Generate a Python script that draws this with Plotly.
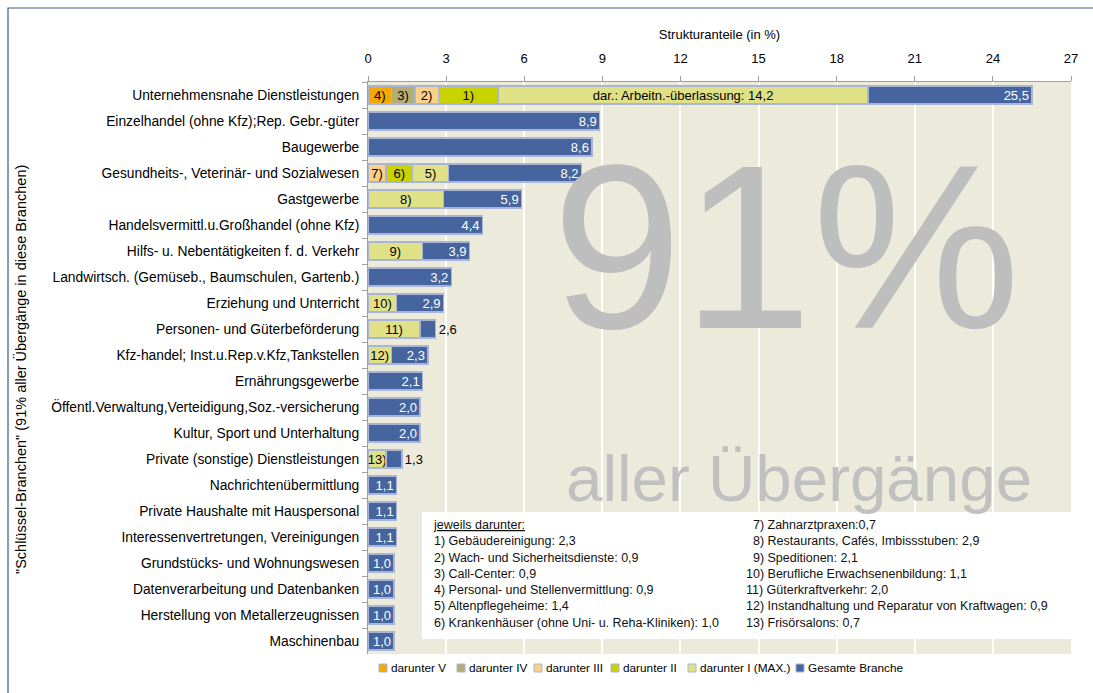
import plotly.graph_objects as go

categories = [
    "Unternehmensnahe Dienstleistungen",
    "Einzelhandel (ohne Kfz);Rep. Gebr.-güter",
    "Baugewerbe",
    "Gesundheits-, Veterinär- und Sozialwesen",
    "Gastgewerbe",
    "Handelsvermittl.u.Großhandel (ohne Kfz)",
    "Hilfs- u. Nebentätigkeiten f. d. Verkehr",
    "Landwirtsch. (Gemüseb., Baumschulen, Gartenb.)",
    "Erziehung und Unterricht",
    "Personen- und Güterbeförderung",
    "Kfz-handel; Inst.u.Rep.v.Kfz,Tankstellen",
    "Ernährungsgewerbe",
    "Öffentl.Verwaltung,Verteidigung,Soz.-versicherung",
    "Kultur, Sport und Unterhaltung",
    "Private (sonstige) Dienstleistungen",
    "Nachrichtenübermittlung",
    "Private Haushalte mit Hauspersonal",
    "Interessenvertretungen, Vereinigungen",
    "Grundstücks- und Wohnungswesen",
    "Datenverarbeitung und Datenbanken",
    "Herstellung von Metallerzeugnissen",
    "Maschinenbau",
]

total = [25.5, 8.9, 8.6, 8.2, 5.9, 4.4, 3.9, 3.2, 2.9, 2.6, 2.3,
         2.1, 2.0, 2.0, 1.3, 1.1, 1.1, 1.1, 1.0, 1.0, 1.0, 1.0]

N = len(categories)
def pad(d):
    return [d.get(i) for i in range(N)]

sub_V = pad({0: 0.9})
sub_V_lbl = pad({0: "4)"})
sub_IV = pad({0: 0.9})
sub_IV_lbl = pad({0: "3)"})
sub_III = pad({0: 0.9, 3: 0.7})
sub_III_lbl = pad({0: "2)", 3: "7)"})
sub_II = pad({0: 2.3, 3: 1.0})
sub_II_lbl = pad({0: "1)", 3: "6)"})
sub_I = pad({0: 14.2, 3: 1.4, 4: 2.9, 6: 2.1, 8: 1.1, 9: 2.0, 10: 0.9, 14: 0.7})
sub_I_lbl = pad({0: "dar.: Arbeitn.-überlassung: 14,2", 3: "5)", 4: "8)", 6: "9)",
                 8: "10)", 9: "11)", 10: "12)", 14: "13)"})
outside_label = [9, 14]

legend_names = ["darunter V", "darunter IV", "darunter III", "darunter II",
                "darunter I (MAX.)", "Gesamte Branche"]

footnote_left = [
    "1) Gebäudereinigung: 2,3",
    "2) Wach- und Sicherheitsdienste: 0,9",
    "3) Call-Center: 0,9",
    "4) Personal- und Stellenvermittlung: 0,9",
    "5) Altenpflegeheime: 1,4",
    "6) Krankenhäuser (ohne Uni- u. Reha-Kliniken): 1,0",
]
footnote_right = [
    "  7) Zahnarztpraxen:0,7",
    "  8) Restaurants, Cafés, Imbissstuben: 2,9",
    "  9) Speditionen: 2,1",
    "10) Berufliche Erwachsenenbildung: 1,1",
    "11) Güterkraftverkehr: 2,0",
    "12) Instandhaltung und Reparatur von Kraftwagen: 0,9",
    "13) Frisörsalons: 0,7",
]

FONT = "Liberation Sans, Arial, sans-serif"
EDGE = "#A9B5D6"
COLORS = ["#F5A800", "#B3AD74", "#FDD088", "#C9D300", "#E0E087", "#46649D"]

def fmt(v):
    return f"{v:.1f}".replace(".", ",")

remainder = []
for i in range(N):
    s = sum(v for v in (sub_V[i], sub_IV[i], sub_III[i], sub_II[i], sub_I[i]) if v)
    remainder.append(round(total[i] - s, 2))

fig = go.Figure()
series = [
    (sub_V, sub_V_lbl),
    (sub_IV, sub_IV_lbl),
    (sub_III, sub_III_lbl),
    (sub_II, sub_II_lbl),
    (sub_I, sub_I_lbl),
]
for k, (vals, lbls) in enumerate(series):
    fig.add_trace(go.Bar(
        y=categories, x=vals, name=legend_names[k], orientation="h",
        marker=dict(color=COLORS[k], line=dict(color=EDGE, width=1.5)),
        text=[l if l else "" for l in lbls], textposition="inside",
        insidetextanchor="middle", constraintext="none", textangle=0,
        textfont=dict(family=FONT, size=13, color="black"),
        hoverinfo="skip",
    ))

fig.add_trace(go.Bar(
    y=categories, x=remainder, name=legend_names[5], orientation="h",
    marker=dict(color=COLORS[5], line=dict(color=EDGE, width=1.5)),
    text=[fmt(t) for t in total],
    textposition=["outside" if i in outside_label else "inside" for i in range(N)],
    insidetextanchor="end", constraintext="none", textangle=0,
    insidetextfont=dict(family=FONT, size=13, color="white"),
    outsidetextfont=dict(family=FONT, size=13, color="black"),
    hoverinfo="skip",
))

L, R, T, B = 368, 22, 82, 39
W, H = 1093, 693
pw, ph = W - L - R, H - T - B
def px(x):
    return (x - L) / pw
def py(y):
    return (H - B - y) / ph

fig.update_layout(
    width=W, height=H,
    margin=dict(l=L, r=R, t=T, b=B),
    barmode="stack", bargap=0.3,
    plot_bgcolor="#ECEADB", paper_bgcolor="white",
    font=dict(family=FONT, size=13, color="black"),
    showlegend=False,
    xaxis=dict(side="top", range=[0, 27], tickmode="array",
               tickvals=list(range(0, 28, 3)), showgrid=True, gridcolor="white",
               gridwidth=1.5, zeroline=False, showline=True, linecolor="#A0A0A0",
               ticks="outside", ticklen=5, tickcolor="#A0A0A0", ticklabelstandoff=8,
               tickfont=dict(size=13), fixedrange=True,
               title=dict(text="Strukturanteile (in %)", font=dict(size=13), standoff=8)),
    yaxis=dict(categoryorder="array", categoryarray=categories, autorange="reversed",
               showline=True, linecolor="#A0A0A0", ticks="outside", ticklen=5,
               tickcolor="#A0A0A0", tickson="boundaries", showgrid=False,
               ticklabelstandoff=5, tickfont=dict(size=13.8), fixedrange=True),
)

# big background texts
fig.add_annotation(xref="paper", yref="paper", x=px(786), y=py(247), text="91%",
                   showarrow=False, font=dict(family=FONT, size=234, color="#BEBEBE"),
                   xanchor="center", yanchor="middle")
fig.add_annotation(xref="paper", yref="paper", x=px(799), y=py(478), text="aller Übergänge",
                   showarrow=False, font=dict(family=FONT, size=65.5, color="#C0C0C0"),
                   xanchor="center", yanchor="middle")

# footnote box
fig.add_shape(type="rect", xref="paper", yref="paper", x0=px(422), x1=px(1071),
              y0=py(639), y1=py(512), fillcolor="white", line=dict(width=0), layer="above")
fig.add_annotation(xref="paper", yref="paper", x=px(431), y=py(516),
                   xanchor="left", yanchor="top", align="left", showarrow=False,
                   text="<span style='text-decoration:underline'>jeweils darunter:</span><br>"
                        + "<br>".join(footnote_left),
                   font=dict(family=FONT, size=12.5, color="#111"))
fig.add_annotation(xref="paper", yref="paper", x=px(744), y=py(516),
                   xanchor="left", yanchor="top", align="left", showarrow=False,
                   text="<br>".join(footnote_right),
                   font=dict(family=FONT, size=12.5, color="#111"))

# legend (drawn manually to match compact spacing)
legend_x = [383, 461, 538, 615, 692, 800]
for k, name in enumerate(legend_names):
    cx = legend_x[k]
    fig.add_shape(type="rect", xref="paper", yref="paper",
                  x0=px(cx - 4), x1=px(cx + 4), y0=py(672), y1=py(664),
                  fillcolor=COLORS[k], line=dict(color=EDGE, width=1))
    fig.add_annotation(xref="paper", yref="paper", x=px(cx + 6), y=py(668),
                       text=name, showarrow=False, xanchor="left", yanchor="middle",
                       font=dict(family=FONT, size=11.8, color="black"))

# y axis title
fig.add_annotation(xref="paper", yref="paper", x=px(20), y=py(370), textangle=-90,
                   text="\"Schlüssel-Branchen\" (91% aller Übergänge in diese Branchen)",
                   showarrow=False, font=dict(family=FONT, size=14.5),
                   xanchor="center", yanchor="middle")

# outer frame
fig.add_shape(type="rect", xref="paper", yref="paper", x0=px(8), x1=px(1120),
              y0=py(720), y1=py(8), line=dict(color="#3A5A99", width=1.2),
              fillcolor="rgba(0,0,0,0)", layer="below")

fig.write_html("out.html", config={"displayModeBar": False},
               post_script="document.body.style.margin='0px';document.body.style.overflow='hidden';")
